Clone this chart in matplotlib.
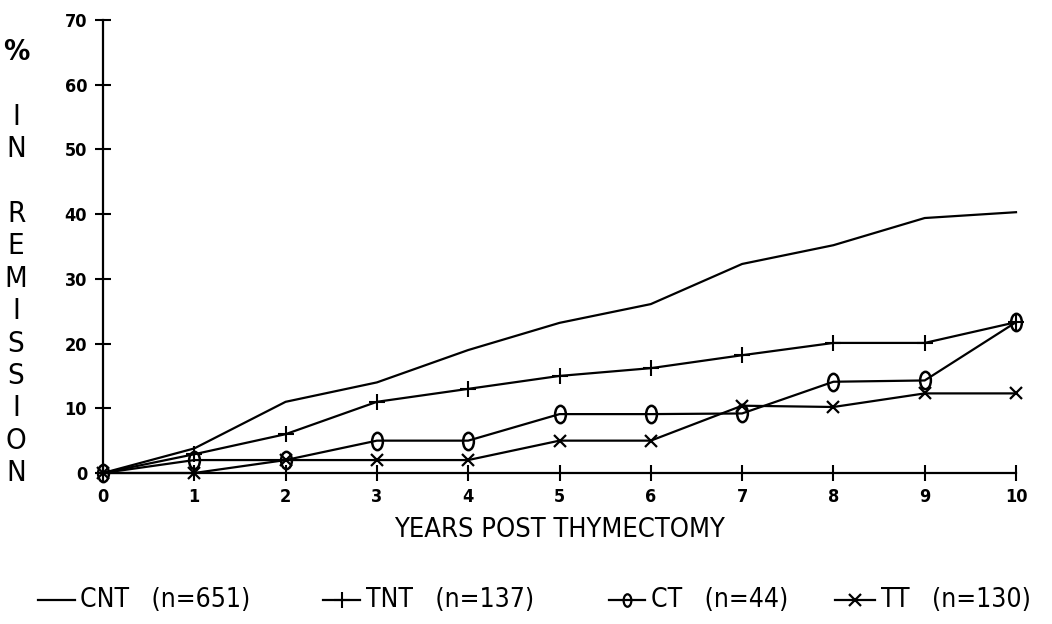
import matplotlib
matplotlib.use("Agg")
import matplotlib.pyplot as plt
from matplotlib import font_manager
from matplotlib.path import Path
from matplotlib.transforms import Affine2D
from matplotlib.lines import Line2D
import matplotlib.transforms as mtrans

# ---------------- data ----------------
years = [0, 1, 2, 3, 4, 5, 6, 7, 8, 9, 10]
cnt = [0, 3.8, 11, 14, 19, 23.2, 26.1, 32.3, 35.2, 39.4, 40.3]
tnt = [0, 2.9, 6, 11, 13, 15, 16.2, 18.2, 20.1, 20.1, 23.3]
ct = [0, 2, 2, 5, 5, 9.1, 9.1, 9.2, 14.1, 14.3, 23.3]
tt = [0, 0, 2, 2, 2, 5, 5, 10.4, 10.2, 12.3, 12.3]

series_names = ["CNT   (n=651)", "TNT   (n=137)", "CT   (n=44)", "TT   (n=130)"]
x_ticks = list(range(0, 11))
y_ticks = list(range(0, 71, 10))
x_label = "YEARS POST THYMECTOMY"
# stacked y label letters with their data-y positions
y_letters = ["%", "I", "N", "R", "E", "M", "I", "S", "S", "I", "O", "N"]
y_letter_pos = [65, 55, 50, 40, 35, 30, 25, 20, 15, 10, 5, 0]

# ---------------- fonts ----------------
names = {f.name for f in font_manager.fontManager.ttflist}
if "Liberation Sans Narrow" in names:
    FAM = "Liberation Sans Narrow"
    STRETCH = "normal"
else:
    FAM = "DejaVu Sans"
    STRETCH = "condensed"

W, H = 1052, 624
fig = plt.figure(figsize=(W / 100, H / 100), dpi=100)
ax = fig.add_axes([103 / W, 1 - 473 / H, (1016 - 103) / W, (473 - 20) / H])

# custom narrow ellipse marker for CT
ell = Path.unit_circle().transformed(Affine2D().scale(0.62, 1.0))

lw = 1.6
ax.plot(years, cnt, color="black", lw=lw, clip_on=False)
ax.plot(years, tnt, color="black", lw=lw, marker="+", ms=11, mew=1.5, clip_on=False)
ax.plot(years, ct, color="black", lw=lw, marker=ell, ms=12.5, mew=1.8,
        mfc="none", mec="black", clip_on=False)
ax.plot(years, tt, color="black", lw=lw, marker="x", ms=9, mew=1.6, clip_on=False)

ax.set_xlim(0, 10)
ax.set_ylim(0, 70)
for s in ["top", "right"]:
    ax.spines[s].set_visible(False)
for s in ["left", "bottom"]:
    ax.spines[s].set_linewidth(1.6)
    ax.spines[s].set_color("black")

ax.set_xticks(x_ticks)
ax.set_yticks(y_ticks)
ax.tick_params(axis="both", direction="inout", length=11, width=1.5, colors="black")
ax.tick_params(axis="x", pad=5)
ax.tick_params(axis="y", pad=6)
for lab in ax.get_xticklabels() + ax.get_yticklabels():
    lab.set_fontfamily(FAM)
    lab.set_fontstretch(STRETCH)
    lab.set_fontweight("bold")
    lab.set_fontsize(13)

ax.set_xlabel(x_label, family=FAM, stretch=STRETCH, fontsize=19.5, labelpad=8)

# stacked y label
trans = mtrans.blended_transform_factory(fig.transFigure, ax.transData)
for ch, yp in zip(y_letters, y_letter_pos):
    fig.text(16 / W, yp, ch, transform=trans, ha="center", va="center",
             family=FAM, stretch=STRETCH, fontsize=21,
             fontweight="bold" if ch == "%" else "normal")

# legend (manual)
ly = 1 - 600 / H
leg = [
    (38, 75, None, {}, 80, series_names[0]),
    (323, 360, "+", dict(ms=11, mew=1.5), 366, series_names[1]),
    (609, 645, ell, dict(ms=9, mew=1.6, mfc="none"), 651, series_names[2]),
    (835, 875, "x", dict(ms=9, mew=1.6), 881, series_names[3]),
]
for x0, x1, mk, kw, tx, txt in leg:
    ln = Line2D([x0 / W, x1 / W], [ly, ly], color="black", lw=1.6,
                transform=fig.transFigure)
    fig.add_artist(ln)
    if mk is not None:
        mline = Line2D([(x0 + x1) / 2 / W], [ly], color="black", marker=mk,
                       transform=fig.transFigure, linestyle="none", **kw)
        fig.add_artist(mline)
    fig.text(tx / W, ly, txt, ha="left", va="center", family=FAM,
             stretch=STRETCH, fontsize=19)

fig.savefig("out.png", dpi=100)
